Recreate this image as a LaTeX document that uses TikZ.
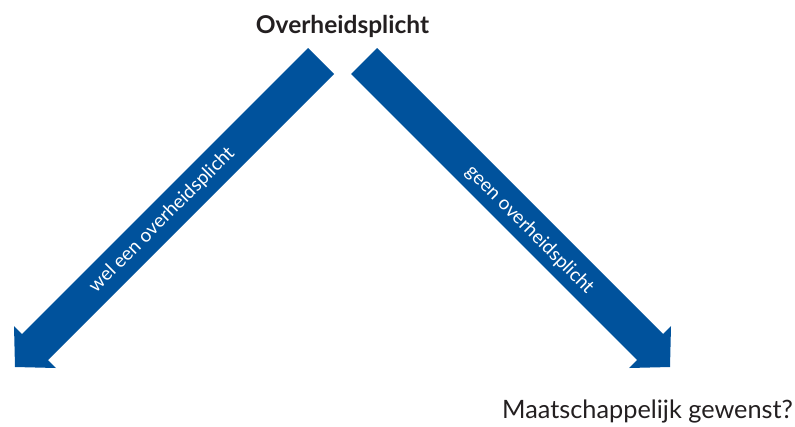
\documentclass[tikz,border=0pt]{standalone}
\usepackage{fontspec}
\setmainfont{Lato}
\definecolor{arrowblue}{RGB}{0,82,156}
\definecolor{textdark}{RGB}{35,31,32}
\tikzset{
  bigarrow/.style={fill=arrowblue, draw=none},
  arrowlabel/.style={text=white, font=\fontsize{19}{22}\selectfont, inner sep=0pt},
  titlelabel/.style={text=textdark, font=\bfseries\fontsize{24.5}{28}\selectfont, inner sep=0pt},
  questionlabel/.style={text=textdark, font=\fontsize{25.3}{29}\selectfont, inner sep=0pt}
}
\begin{document}
\begin{tikzpicture}[x=1pt,y=-1pt]
  \useasboundingbox (0,0) rectangle (795,426);
  % left arrow: shaft from the top cut down-left to the head
  \path[bigarrow] (308,48) -- (334,74) -- (48,360) -- (56,368) -- (15,367)
    -- (14,326) -- (22,334) -- cycle;
  % right arrow: mirror image about x = 342.5
  \path[bigarrow] (377,48) -- (351,74) -- (637,360) -- (629,368) -- (670,367)
    -- (671,326) -- (663,334) -- cycle;
  \node[titlelabel, anchor=base] (duty) at (342.5,33) {Overheidsplicht};
  \node[arrowlabel, rotate=45] (yes) at (162,220) {wel een overheidsplicht};
  \node[arrowlabel, rotate=-45] (no) at (529.5,230) {geen overheidsplicht};
  \node[questionlabel, anchor=base west] (wanted) at (502,418) {Maatschappelijk gewenst?};
\end{tikzpicture}
\end{document}
